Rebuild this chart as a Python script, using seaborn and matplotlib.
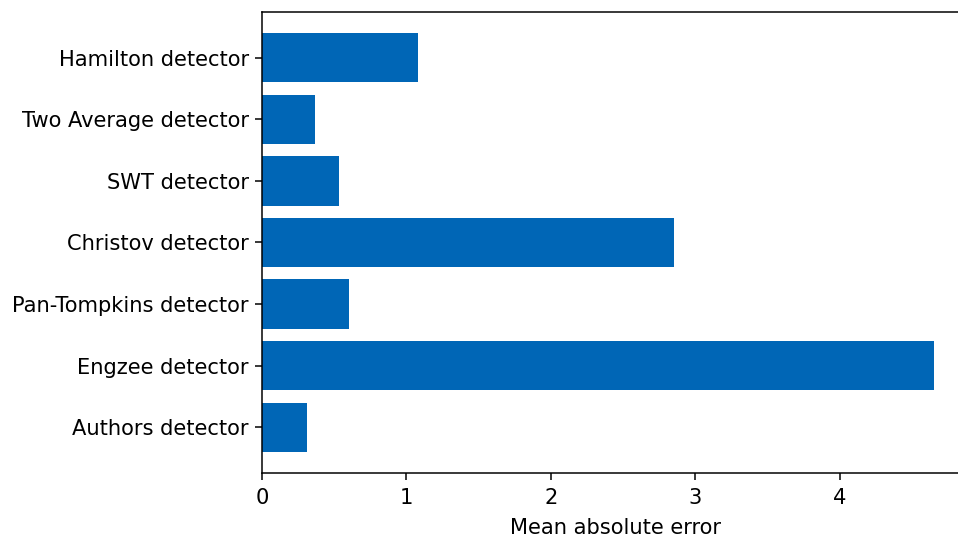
import matplotlib
matplotlib.use("Agg")
import matplotlib.pyplot as plt
import seaborn as sns
import pandas as pd

detectors = [
    "Hamilton detector",
    "Two Average detector",
    "SWT detector",
    "Christov detector",
    "Pan-Tompkins detector",
    "Engzee detector",
    "Authors detector",
]
mae = [1.08, 0.37, 0.53, 2.85, 0.60, 4.655, 0.31]

df = pd.DataFrame({"detector": detectors, "mae": mae})

FS = 15.1
plt.rcParams["font.family"] = ["DejaVu Sans"]
plt.rcParams["font.size"] = FS
plt.rcParams["axes.linewidth"] = 1.09
plt.rcParams["xtick.major.size"] = 4.8
plt.rcParams["ytick.major.size"] = 4.8
plt.rcParams["xtick.major.width"] = 1.09
plt.rcParams["ytick.major.width"] = 1.09
plt.rcParams["xtick.major.pad"] = 6.0
plt.rcParams["ytick.major.pad"] = 4.8

fig = plt.figure(figsize=(9.58, 5.39), dpi=100)
ax = fig.add_axes([262 / 958, 66 / 539, (968 - 262) / 958, 461 / 539])

sns.barplot(data=df, x="mae", y="detector", orient="h", color="#0066B6",
            saturation=1, width=0.8, ax=ax)

ax.set_xlim(0, 4.655 * 1.05)
ax.set_ylim(6.74, -0.74)
ax.set_xticks([0, 1, 2, 3, 4])
ax.set_xlabel("Mean absolute error", fontsize=FS, labelpad=7.5)
ax.set_ylabel("")
ax.tick_params(labelsize=FS)

fig.savefig("out.png", dpi=100)
